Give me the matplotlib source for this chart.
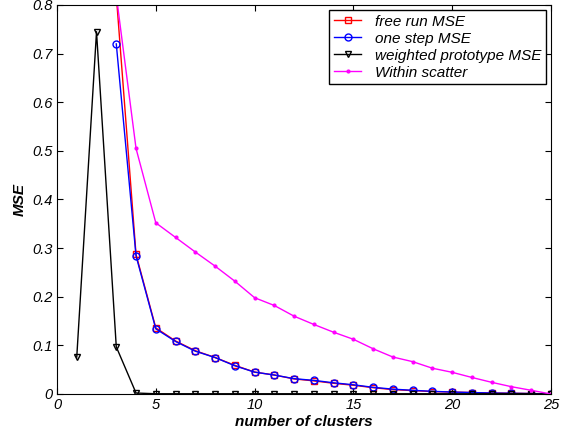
import matplotlib
matplotlib.use("Agg")
import matplotlib.pyplot as plt
from matplotlib.ticker import FormatStrFormatter

plt.rcParams['font.family'] = ['Liberation Sans', 'DejaVu Sans']

# === DATA ===
clusters = list(range(1, 26))

free_run_x = list(range(3, 26))
free_run = [0.82, 0.287, 0.136, 0.109, 0.089, 0.075, 0.059, 0.045, 0.039,
            0.031, 0.027, 0.022, 0.018, 0.013, 0.009, 0.007, 0.005, 0.004,
            0.003, 0.002, 0.0015, 0.001, 0.0]

one_step_x = list(range(3, 26))
one_step = [0.72, 0.284, 0.134, 0.108, 0.088, 0.075, 0.058, 0.045, 0.039,
            0.0315, 0.028, 0.023, 0.019, 0.0137, 0.010, 0.0076, 0.0055, 0.004,
            0.003, 0.002, 0.0015, 0.001, 0.0]

weighted = [0.076, 0.745, 0.097, 0.002, 0.0005, 0.0005, 0.0005, 0.0005, 0.0005,
            0.0005, 0.0005, 0.0005, 0.0005, 0.0005, 0.0005, 0.0005, 0.0005, 0.0005,
            0.0005, 0.0005, 0.0005, 0.0005, 0.0005, 0.0005, 0.0]

within_x = list(range(3, 26))
within = [0.82, 0.505, 0.352, 0.322, 0.292, 0.263, 0.232, 0.198, 0.182,
          0.160, 0.143, 0.127, 0.1125, 0.093, 0.076, 0.0665, 0.053, 0.0446,
          0.034, 0.024, 0.015, 0.0076, 0.0]

# === PLOT ===
fig = plt.figure(figsize=(5.74, 4.37), dpi=100)
ax = fig.add_axes([0.0993, 0.0984, 0.8606, 0.8902])

ax.plot(free_run_x, free_run, color="red", marker="s", markersize=4,
        markerfacecolor="none", linewidth=1, label="free run MSE")
ax.plot(one_step_x, one_step, color="blue", marker="o", markersize=5,
        markerfacecolor="none", linewidth=1, label="one step MSE")
ax.plot(clusters, weighted, color="black", marker="v", markersize=5,
        markerfacecolor="none", linewidth=1, label="weighted prototype MSE")
ax.plot(within_x, within, color="magenta", marker=".", markersize=4,
        linewidth=1, label="Within scatter")

ax.set_xlim(0, 25)
ax.set_ylim(0, 0.8)
ax.set_xticks([0, 5, 10, 15, 20, 25])
ax.set_yticks([0, 0.1, 0.2, 0.3, 0.4, 0.5, 0.6, 0.7, 0.8])
ax.yaxis.set_major_formatter(FormatStrFormatter('%g'))
ax.tick_params(direction="in", top=True, right=True, length=4, labelsize=10.5, pad=3)
for lab in ax.get_xticklabels() + ax.get_yticklabels():
    lab.set_fontstyle("italic")

ax.set_xlabel("number of clusters", fontsize=11, fontweight="bold", fontstyle="italic", labelpad=2)
ax.set_ylabel("MSE", fontsize=11, fontweight="bold", fontstyle="italic", labelpad=4)

leg = ax.legend(loc="upper right", bbox_to_anchor=(0.99, 0.987), borderaxespad=0,
                prop={"size": 11, "style": "italic"}, fancybox=False, framealpha=1,
                edgecolor="black", handlelength=1.8, labelspacing=0.2,
                borderpad=0.3, handletextpad=0.9)
leg.get_frame().set_linewidth(1)

plt.savefig("out.png", dpi=100)
